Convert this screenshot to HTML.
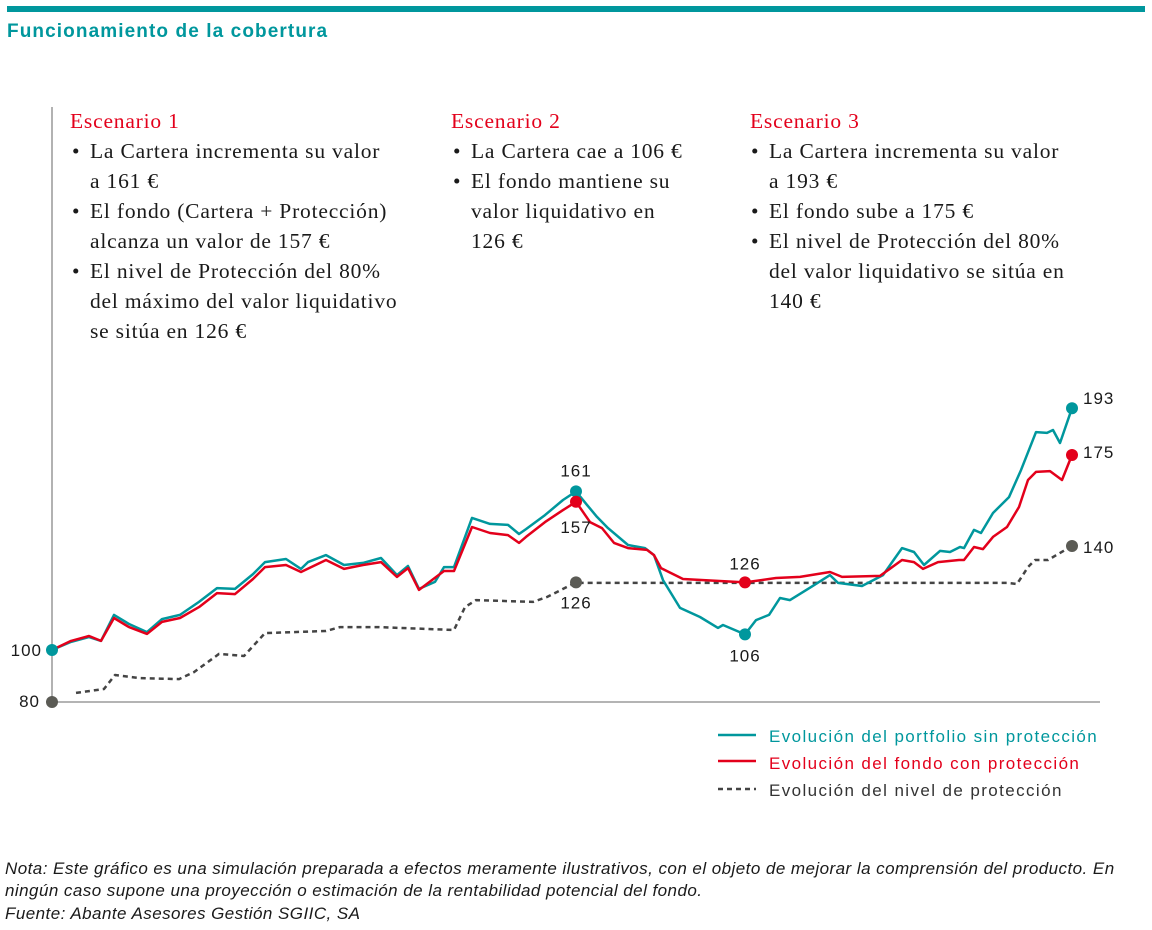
<!DOCTYPE html>
<html><head><meta charset="utf-8"><style>
html,body{margin:0;padding:0;background:#fff;}
svg{display:block;}
.ser{font-family:"Liberation Serif",serif;font-size:21.5px;letter-spacing:0.8px;fill:#1a1a1a;}
.red{fill:#e3001b;}
.sans{font-family:"Liberation Sans",sans-serif;}
.leg{font-size:17px;letter-spacing:1.4px;}
</style></head><body>
<svg id="chart" width="1152" height="930" viewBox="0 0 1152 930" xmlns="http://www.w3.org/2000/svg">
<rect x="7" y="6" width="1138" height="6" fill="#00979d"/>
<text x="7" y="37" class="sans" font-size="19" font-weight="bold" letter-spacing="1.1" fill="#00979d">Funcionamiento de la cobertura</text>

<g>
<text x="70" y="128" class="ser red">Escenario 1</text>
<text class="ser">
<tspan x="72" y="158">•</tspan><tspan x="90" y="158">La Cartera incrementa su valor</tspan>
<tspan x="90" y="188">a 161 €</tspan>
<tspan x="72" y="218">•</tspan><tspan x="90" y="218">El fondo (Cartera + Protección)</tspan>
<tspan x="90" y="248">alcanza un valor de 157 €</tspan>
<tspan x="72" y="278">•</tspan><tspan x="90" y="278">El nivel de Protección del 80%</tspan>
<tspan x="90" y="308">del máximo del valor liquidativo</tspan>
<tspan x="90" y="338">se sitúa en 126 €</tspan>
</text></g>
<g>
<text x="451" y="128" class="ser red">Escenario 2</text>
<text class="ser">
<tspan x="453" y="158">•</tspan><tspan x="471" y="158">La Cartera cae a 106 €</tspan>
<tspan x="453" y="188">•</tspan><tspan x="471" y="188">El fondo mantiene su</tspan>
<tspan x="471" y="218">valor liquidativo en</tspan>
<tspan x="471" y="248">126 €</tspan>
</text></g>
<g>
<text x="750" y="128" class="ser red">Escenario 3</text>
<text class="ser">
<tspan x="751" y="158">•</tspan><tspan x="769" y="158">La Cartera incrementa su valor</tspan>
<tspan x="769" y="188">a 193 €</tspan>
<tspan x="751" y="218">•</tspan><tspan x="769" y="218">El fondo sube a 175 €</tspan>
<tspan x="751" y="248">•</tspan><tspan x="769" y="248">El nivel de Protección del 80%</tspan>
<tspan x="769" y="278">del valor liquidativo se sitúa en</tspan>
<tspan x="769" y="308">140 €</tspan>
</text></g>

<line x1="52" y1="107" x2="52" y2="702" stroke="#888" stroke-width="1.3"/>
<line x1="52" y1="702" x2="1100" y2="702" stroke="#888" stroke-width="1.3"/>
<text x="42" y="656" text-anchor="end" class="sans" font-size="17" letter-spacing="1" fill="#1a1a1a">100</text>
<text x="40" y="707" text-anchor="end" class="sans" font-size="17" letter-spacing="1" fill="#1a1a1a">80</text>
<g id="marks"></g>

<g>
<line x1="718" y1="735" x2="756" y2="735" stroke="#00979d" stroke-width="2.5"/>
<text x="769" y="742" class="sans leg" fill="#00979d">Evolución del portfolio sin protección</text>
<line x1="718" y1="761" x2="756" y2="761" stroke="#e3001b" stroke-width="2.5"/>
<text x="769" y="769" class="sans leg" fill="#e3001b">Evolución del fondo con protección</text>
<line x1="718" y1="789" x2="756" y2="789" stroke="#444" stroke-width="2.5" stroke-dasharray="5,4"/>
<text x="769" y="796" class="sans leg" fill="#333">Evolución del nivel de protección</text>
</g>

<g class="sans" font-size="17" letter-spacing="0.45" font-style="italic" fill="#1a1a1a">
<text x="5" y="874">Nota: Este gráfico es una simulación preparada a efectos meramente ilustrativos, con el objeto de mejorar la comprensión del producto. En</text>
<text x="5" y="896">ningún caso supone una proyección o estimación de la rentabilidad potencial del fondo.</text>
<text x="5" y="919">Fuente: Abante Asesores Gestión SGIIC, SA</text>
</g>
</svg>
<script>
const portfolioT=[0,19,37,49,62,77,95,110,128,147,165,183,201,213,234,249,256,274,292,311,329,345,356,367,383,392,402,420,438,456,467,474,493,511,524,535,545,556,576,593,602,611,628,648,666,671,693,704,717,728,738,759,778,786,810,831,850,862,872,888,898,908,912,922,929,941,957,969,984,995,1001,1008,1020];
const portfolioV=[100,103.1,105,103.5,113.5,110,106.9,111.9,113.5,118.5,123.8,123.5,129.2,133.8,135,131.2,133.8,136.5,132.7,133.5,135.4,128.8,132.3,123.5,126.2,131.9,131.9,150.8,148.5,148.1,144.6,146.5,151.9,157.7,161,155.8,151.2,146.9,140.4,139.2,136.5,126.9,116.2,112.7,108.5,109.6,106,111.5,113.5,120,119.2,124.2,128.8,125.8,124.6,128.8,139.2,137.7,132.7,138.1,137.7,139.6,139.2,146.2,145,152.7,158.8,169.2,183.8,183.5,184.6,179.6,193];
const fundT=[0,19,37,49,62,77,95,110,128,147,165,183,201,213,234,249,274,292,311,329,345,356,367,392,402,420,438,456,467,474,493,511,524,538,550,562,576,595,602,609,631,693,724,748,778,790,828,850,862,871,886,907,912,922,931,941,955,967,976,984,998,1010,1020];
const fundV=[100,103.5,105.4,103.5,112.3,108.8,106.2,110.8,112.3,116.5,121.9,121.5,127.3,131.9,132.7,130,134.6,131.2,132.7,133.8,128.1,131.5,123.1,130.4,130.4,147.3,145,144.2,141.2,143.5,149.2,153.8,157,149.2,146.9,141.2,139.2,138.5,136.5,131.5,127.3,126,127.7,128.1,130,128.1,128.5,134.6,133.8,131.2,133.8,134.6,134.6,139.6,138.8,143.5,147.3,155,165.4,168.5,168.8,165.4,175];
const protT=[24,52,63,88,127,142,167,192,213,274,288,327,402,413,424,481,495,524,528,955,965,976,983,996,1020];
const protV=[83.5,85,90.4,89.2,88.8,91.5,98.5,97.7,106.5,107.3,108.8,108.8,107.7,116.5,119.2,118.5,120.4,126,125.8,125.8,125.4,131.9,134.6,134.6,140];
const annotations=[
 {name:'point-start-100',t:0,v:100,c:'#00979d',label:''},
 {name:'point-start-80',t:0,v:80,c:'#5b5b55',label:''},
 {name:'point-161',t:524,v:161,c:'#00979d',label:'161',dx:0,dy:-15},
 {name:'point-157',t:524,v:157,c:'#e3001b',label:'157',dx:0,dy:31},
 {name:'point-126-prot',t:524,v:126,c:'#5b5b55',label:'126',dx:0,dy:26},
 {name:'point-126-fund',t:693,v:126,c:'#e3001b',label:'126',dx:0,dy:-13},
 {name:'point-106',t:693,v:106,c:'#00979d',label:'106',dx:0,dy:27},
 {name:'point-193',t:1020,v:193,c:'#00979d',label:'193',dx:11,dy:-4,anchor:'start'},
 {name:'point-175',t:1020,v:175,c:'#e3001b',label:'175',dx:11,dy:3,anchor:'start'},
 {name:'point-140',t:1020,v:140,c:'#5b5b55',label:'140',dx:11,dy:7,anchor:'start'}
];
const NS='http://www.w3.org/2000/svg';
function xs(t){return 52+t;}
function ys(v){return 650-(v-100)*2.6;}
const g=document.getElementById('marks');
function line(T,V,color,dash,name){
  const p=document.createElementNS(NS,'polyline');
  p.setAttribute('points',T.map((t,i)=>xs(t)+','+ys(V[i]).toFixed(1)).join(' '));
  p.setAttribute('fill','none');p.setAttribute('stroke',color);
  p.setAttribute('stroke-width','2.5');p.setAttribute('stroke-linejoin','round');p.setAttribute('stroke-linecap','round');
  if(dash){p.setAttribute('stroke-dasharray','5,4');p.setAttribute('stroke-linecap','butt');}
  
  
  g.appendChild(p);
}
line(protT,protV,'#444',true,'protection-line');
line(portfolioT,portfolioV,'#00979d',false,'portfolio-line');
line(fundT,fundV,'#e3001b',false,'fund-line');
annotations.forEach(a=>{
  const c=document.createElementNS(NS,'circle');
  c.setAttribute('cx',xs(a.t));c.setAttribute('cy',ys(a.v));c.setAttribute('r','6');c.setAttribute('fill',a.c);
  
  
  g.appendChild(c);
  if(a.label){
    const tx=document.createElementNS(NS,'text');
    tx.setAttribute('x',xs(a.t)+a.dx);tx.setAttribute('y',ys(a.v)+a.dy);
    tx.setAttribute('text-anchor',a.anchor||'middle');
    tx.setAttribute('font-family','"Liberation Sans",sans-serif');tx.setAttribute('font-size','17');tx.setAttribute('letter-spacing','1');tx.setAttribute('fill','#1a1a1a');
    tx.textContent=a.label;
    
    
    g.appendChild(tx);
  }
});
</script>
</body></html>
